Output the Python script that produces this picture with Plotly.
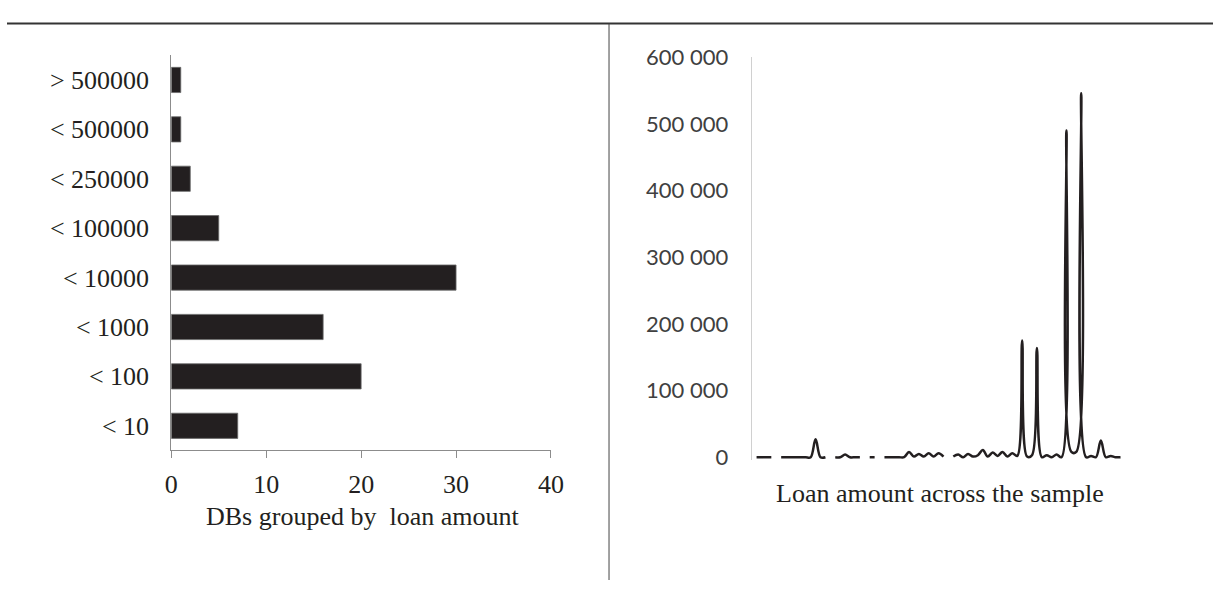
import plotly.graph_objects as go

# Left panel: number of DBs per loan-amount group
loan_groups = ["< 10", "< 100", "< 1000", "< 10000", "< 100000",
               "< 250000", "< 500000", "> 500000"]
db_counts = [7, 20, 16, 30, 5, 2, 1, 1]
count_ticks = [0, 10, 20, 30, 40]

# Right panel: loan amount for each entry of the sample (None = missing entry)
loan_amounts = [
    0, 0, 0, 0, None, 0, 0, 0, 0, 0,
    0, 0, 27000, 0, 0, None, 0, 0, 4000, 0,
    0, 0, None, 0, 0, None, 0, 0, 0, 0,
    0, 8000, 1000, 5000, 1000, 6000, 1000, 6000, 1000, None,
    1000, 4000, 0, 5000, 1000, 3000, 11000, 1000, 7000, 2000,
    8000, 1000, 6000, 2000, 175000, 1000, 3000, 164000, 0, 3000,
    0, 4000, 0, 490000, 8000, 8000, 546000, 0, 2000, 0,
    25000, 0, 2000, 0, 0,
]
sample_index = list(range(len(loan_amounts)))
amount_tickvals = [0, 100000, 200000, 300000, 400000, 500000, 600000]
amount_ticktext = ["0", "100 000", "200 000", "300 000", "400 000",
                   "500 000", "600 000"]

W, H = 1226, 590
INK = "#231f20"
SERIF = "Liberation Serif"


def px_x(px):
    return px / W


def px_y(py):
    return 1 - py / H


fig = go.Figure()

fig.add_trace(go.Bar(
    y=loan_groups, x=db_counts, orientation="h",
    marker=dict(color=INK, line=dict(color="#6a6a6a", width=0.8)),
    xaxis="x", yaxis="y", showlegend=False,
))

fig.add_trace(go.Scatter(
    x=sample_index, y=loan_amounts, mode="lines",
    line=dict(color=INK, width=2.5, shape="spline", smoothing=1),
    connectgaps=False, xaxis="x2", yaxis="y2", showlegend=False,
))

fig.update_layout(
    width=W, height=H,
    margin=dict(l=0, r=0, t=0, b=0),
    paper_bgcolor="white", plot_bgcolor="white",
    bargap=0.49,
    xaxis=dict(
        domain=[px_x(167), px_x(553)], range=[0, 40],
        tickvals=count_ticks, showgrid=False, zeroline=False,
        showline=True, linecolor="#8c8c8c", linewidth=1,
        ticks="outside", ticklen=7, tickcolor="#8c8c8c", tickwidth=1,
        ticklabelstandoff=3,
        tickfont=dict(family=SERIF, size=26, color=INK),
        anchor="y",
    ),
    yaxis=dict(
        domain=[px_y(455), px_y(43)],
        categoryorder="array", categoryarray=loan_groups,
        showgrid=False, zeroline=False,
        showline=True, linecolor="#8c8c8c", linewidth=1,
        ticks="", ticklabelstandoff=16,
        tickfont=dict(family=SERIF, size=26, color=INK),
        anchor="x",
    ),
    xaxis2=dict(
        domain=[px_x(757), px_x(1135)], range=[-1, 74.6],
        visible=False, anchor="y2",
    ),
    yaxis2=dict(
        domain=[px_y(464.8), px_y(45)], range=[-4000, 600000],
        tickvals=amount_tickvals, ticktext=amount_ticktext,
        showgrid=False, zeroline=False,
        showline=True, linecolor="#d0d0d0", linewidth=1,
        ticks="", ticklabelstandoff=18,
        tickfont=dict(family="Lato", size=22, color="#404040"),
        anchor="x2",
    ),
    annotations=[
        dict(text="DBs grouped by  loan amount", x=px_x(361), y=px_y(524),
             xref="paper", yref="paper", showarrow=False,
             xanchor="center", yanchor="middle",
             font=dict(family=SERIF, size=26, color=INK)),
        dict(text="Loan amount across the sample", x=px_x(948), y=px_y(500),
             xref="paper", yref="paper", showarrow=False,
             xanchor="center", yanchor="middle",
             font=dict(family=SERIF, size=26, color=INK)),
    ],
    shapes=[
        dict(type="line", xref="paper", yref="paper",
             x0=0, x1=1, y0=px_y(10), y1=px_y(10),
             line=dict(color="#333333", width=2)),
        dict(type="line", xref="paper", yref="paper",
             x0=px_x(612), x1=px_x(612), y0=px_y(10), y1=0,
             line=dict(color="#444444", width=1)),
    ],
)

fig.write_html("out.html")
